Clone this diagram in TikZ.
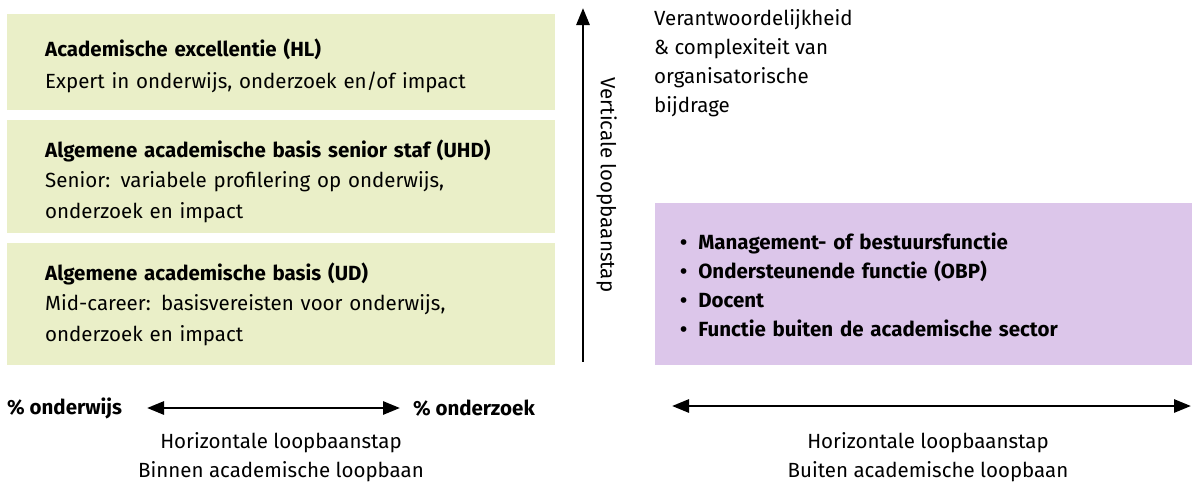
\documentclass[tikz,border=0pt]{standalone}
\usepackage{fontspec}
\setmainfont{Fira Sans}
\usetikzlibrary{arrows.meta,positioning}
\definecolor{acgreen}{RGB}{234,239,200}
\definecolor{expurple}{RGB}{220,198,234}

\begin{document}
\begin{tikzpicture}[x=1pt, y=-1pt, >={Triangle[length=17pt,width=13pt]},
  lvl/.style={fill=acgreen, anchor=north west, minimum width=548pt,
    text width=472pt, inner xsep=38pt, inner ysep=0pt, align=left,
    font=\fontsize{20.5}{30.5}\selectfont},
  txt/.style={font=\fontsize{20.5}{29}\selectfont, inner sep=0pt},
  axis/.style={line width=2.8pt}]
  \useasboundingbox (0,0) rectangle (1192,482);
  % academic levels
  \node[lvl, minimum height=96pt, font=\fontsize{20.5}{31.5}\selectfont] (hl) at (7,14)
    {\rule{0pt}{25pt}\textbf{Academische excellentie (HL)}\\Expert in onderwijs, onderzoek en/of impact};
  \node[lvl, minimum height=113pt] (uhd) at (7,120)
    {\rule{0pt}{26pt}\textbf{Algemene academische basis senior staf (UHD)}\\Senior: variabele profilering op onderwijs,\\onderzoek en impact};
  \node[lvl, minimum height=122pt] (ud) at (7,243)
    {\textbf{Algemene academische basis (UD)}\\Mid-career: basisvereisten voor onderwijs,\\onderzoek en impact};
  % outside the academic career
  \node[fill=expurple, anchor=north west, minimum width=537pt, minimum height=162pt,
    inner xsep=25pt, text width=487pt, align=left, font=\fontsize{20.5}{29}\selectfont\bfseries]
    (out) at (655,203)
    {\rule{0pt}{17pt}\textbullet\hspace{11pt}Management- of bestuursfunctie\\
     \textbullet\hspace{11pt}Ondersteunende functie (OBP)\\
     \textbullet\hspace{11pt}Docent\\
     \textbullet\hspace{11pt}Functie buiten de academische sector};
  \node[txt, anchor=north west, align=left] (resp) at (654,9)
    {Verantwoordelijkheid\\\&~complexiteit van\\organisatorische\\bijdrage};
  % vertical step
  \coordinate (vtop) at (583,8);
  \coordinate (vbot) at (583,362);
  \draw[axis, <-] (vtop) -- node[sloped, above=12pt, txt] {Verticale loopbaanstap} (vbot);
  % horizontal steps
  \node[txt, anchor=west, font=\fontsize{20.5}{29}\selectfont\bfseries] (ow) at (7,408) {\% onderwijs};
  \node[txt, anchor=east, font=\fontsize{20.5}{29}\selectfont\bfseries] (oz) at (535,408) {\% onderzoek};
  \coordinate (hl1) at (147,408);
  \coordinate (hl2) at (400,408);
  \draw[axis, <->] (hl1) -- (hl2);
  \coordinate (hr1) at (672,406);
  \coordinate (hr2) at (1191,406);
  \draw[axis, <->] (hr1) -- (hr2);
  \node[txt, align=center] (binnen) at (281,457) {Horizontale loopbaanstap\\Binnen academische loopbaan};
  \node[txt, align=center] (buiten) at (928,457) {Horizontale loopbaanstap\\Buiten academische loopbaan};
\end{tikzpicture}
\end{document}
